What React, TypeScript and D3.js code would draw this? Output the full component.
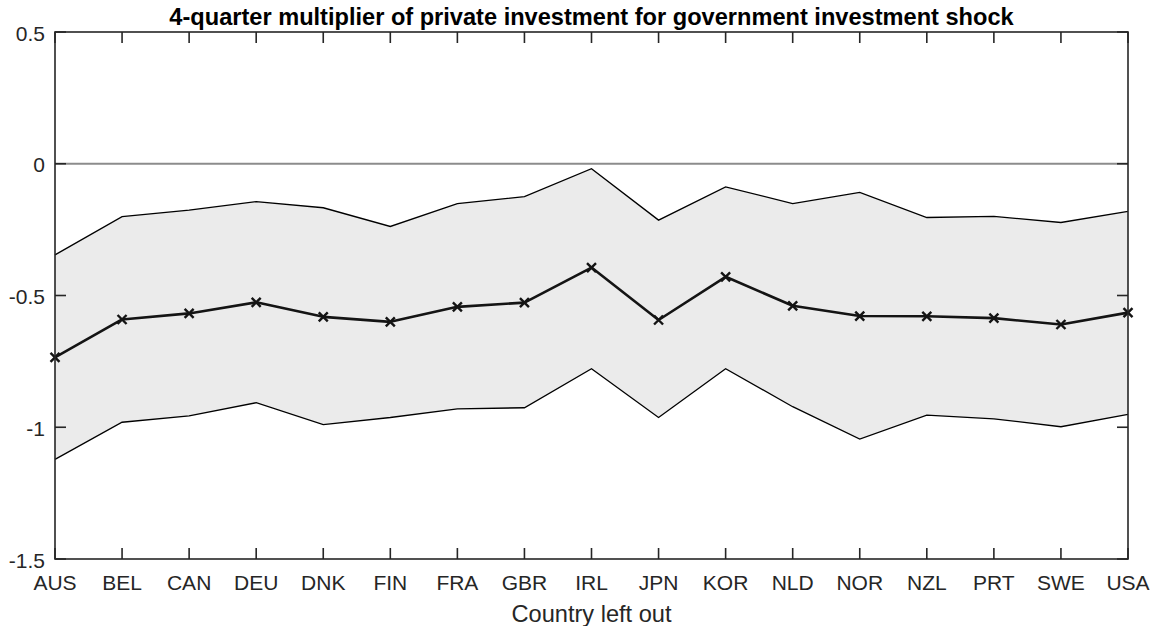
import React from "react";
import * as d3 from "d3";

const countries = ["AUS","BEL","CAN","DEU","DNK","FIN","FRA","GBR","IRL","JPN","KOR","NLD","NOR","NZL","PRT","SWE","USA"];
const pointEstimate = [-0.735,-0.591,-0.568,-0.526,-0.581,-0.600,-0.543,-0.527,-0.394,-0.593,-0.429,-0.539,-0.578,-0.579,-0.586,-0.610,-0.565];
const upperBand = [-0.346,-0.201,-0.176,-0.144,-0.167,-0.238,-0.151,-0.125,-0.019,-0.214,-0.088,-0.151,-0.109,-0.204,-0.200,-0.223,-0.181];
const lowerBand = [-1.122,-0.981,-0.957,-0.907,-0.990,-0.963,-0.930,-0.926,-0.778,-0.963,-0.778,-0.922,-1.045,-0.954,-0.968,-0.998,-0.951];
const yTicks = [0.5, 0, -0.5, -1, -1.5];
const yTickLabels = ["0.5", "0", "-0.5", "-1", "-1.5"];

const W = 1156, H = 626;
const L = 55, R = 1128, T = 32, B = 559;
const FONT = "'Liberation Sans', Arial, Helvetica, sans-serif";
const AX = "#262626";

export default function App() {
  const x = d3.scalePoint<string>().domain(countries).range([L, R]);
  const y = d3.scaleLinear().domain([-1.5, 0.5]).range([B, T]);
  const idx = countries.map((_, i) => i);

  const area = d3.area<number>()
    .x(i => x(countries[i])!)
    .y0(i => y(lowerBand[i]))
    .y1(i => y(upperBand[i]));
  const line = (vals: number[]) =>
    d3.line<number>().x(i => x(countries[i])!).y(i => y(vals[i]))(idx)!;

  const tickLen = 11;
  const m = 4.5;

  return (
    <svg width={W} height={H} style={{ position: "absolute", left: 0, top: 0, background: "#fff" }}>
      <rect x={0} y={0} width={W} height={H} fill="#fff" />
      <path d={area(idx)!} fill="#ebebeb" stroke="none" />
      <line x1={L} x2={R} y1={y(0)} y2={y(0)} stroke="#8c8c8c" strokeWidth={2} />
      <path d={line(upperBand)} fill="none" stroke="#000" strokeWidth={1.3} />
      <path d={line(lowerBand)} fill="none" stroke="#000" strokeWidth={1.3} />
      <path d={line(pointEstimate)} fill="none" stroke="#141414" strokeWidth={2.6} strokeLinejoin="round" />
      {idx.map(i => {
        const cx = x(countries[i])!, cy = y(pointEstimate[i]);
        return (
          <path key={"m" + i}
            d={`M${cx - m},${cy - m}L${cx + m},${cy + m}M${cx - m},${cy + m}L${cx + m},${cy - m}`}
            stroke="#141414" strokeWidth={2.4} />
        );
      })}
      {/* axes box */}
      <rect x={L} y={T} width={R - L} height={B - T} fill="none" stroke={AX} strokeWidth={1.6} />
      {countries.map((c, i) => {
        const cx = x(c)!;
        return (
          <g key={"xt" + i}>
            <line x1={cx} x2={cx} y1={B} y2={B - tickLen} stroke={AX} strokeWidth={1.6} />
            <line x1={cx} x2={cx} y1={T} y2={T + tickLen} stroke={AX} strokeWidth={1.6} />
            <text x={cx} y={590} textAnchor="middle" fontFamily={FONT} fontSize={21} fill={AX}>{c}</text>
          </g>
        );
      })}
      {yTicks.map((v, i) => (
        <g key={"yt" + i}>
          <line x1={L} x2={L + tickLen} y1={y(v)} y2={y(v)} stroke={AX} strokeWidth={1.6} />
          <line x1={R} x2={R - tickLen} y1={y(v)} y2={y(v)} stroke={AX} strokeWidth={1.6} />
          <text x={45} y={y(v) + 8.5} textAnchor="end" fontFamily={FONT} fontSize={21} fill={AX}>{yTickLabels[i]}</text>
        </g>
      ))}
      <text x={(L + R) / 2} y={25} textAnchor="middle" fontFamily={FONT} fontSize={23.6} fontWeight="bold" fill="#000">
        4-quarter multiplier of private investment for government investment shock
      </text>
      <text x={(L + R) / 2} y={622} textAnchor="middle" fontFamily={FONT} fontSize={23.6} fill={AX}>
        Country left out
      </text>
    </svg>
  );
}
